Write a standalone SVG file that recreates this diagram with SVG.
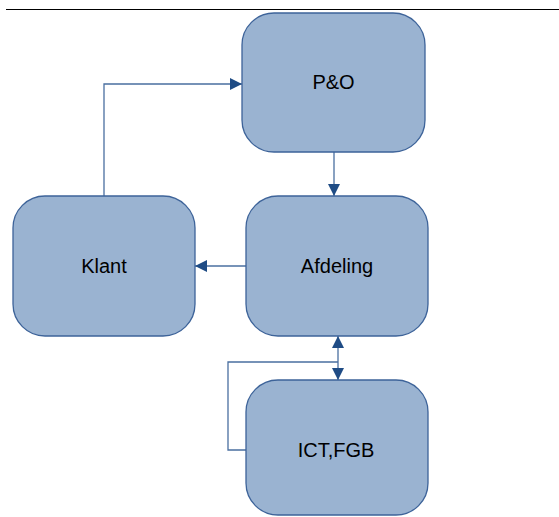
<svg xmlns="http://www.w3.org/2000/svg" width="559" height="517" viewBox="0 0 559 517">
<style>
.node rect{fill:#9AB3D1;stroke:#3D6399;stroke-width:1.3}
.node text{font-family:"Liberation Sans",Arial,sans-serif;font-size:20px;fill:#000;text-anchor:middle}
.conn{fill:none;stroke:#4A6FA0;stroke-width:1.3}
</style>
<defs>
<marker id="ah" viewBox="0 0 10 10" refX="10" refY="5" markerWidth="12" markerHeight="12" markerUnits="userSpaceOnUse" orient="auto-start-reverse">
<path d="M0,0 L10,5 L0,10 z" fill="#1F4C85"/>
</marker>
</defs>
<line x1="6" y1="9.5" x2="559" y2="9.5" stroke="#000" stroke-width="1"/>
<g id="connectors">
<path class="conn" d="M104,196 V84 H242" marker-end="url(#ah)"/>
<path class="conn" d="M334,152 V196" marker-end="url(#ah)"/>
<path class="conn" d="M246,266 H195" marker-end="url(#ah)"/>
<path class="conn" d="M338,336 V380" marker-start="url(#ah)" marker-end="url(#ah)"/>
<path class="conn" d="M246,450 H228 V362 H338"/>
</g>
<g id="po" class="node"><rect x="242" y="13" width="183" height="139" rx="32"/><text x="333.5" y="89">P&amp;O</text></g>
<g id="afdeling" class="node"><rect x="246" y="196" width="182" height="140" rx="32"/><text x="337" y="272.5">Afdeling</text></g>
<g id="klant" class="node"><rect x="13" y="196" width="182" height="140" rx="32"/><text x="104" y="272.5">Klant</text></g>
<g id="ict" class="node"><rect x="246" y="380" width="182" height="135" rx="32"/><text x="336" y="457">ICT,FGB</text></g>
</svg>
